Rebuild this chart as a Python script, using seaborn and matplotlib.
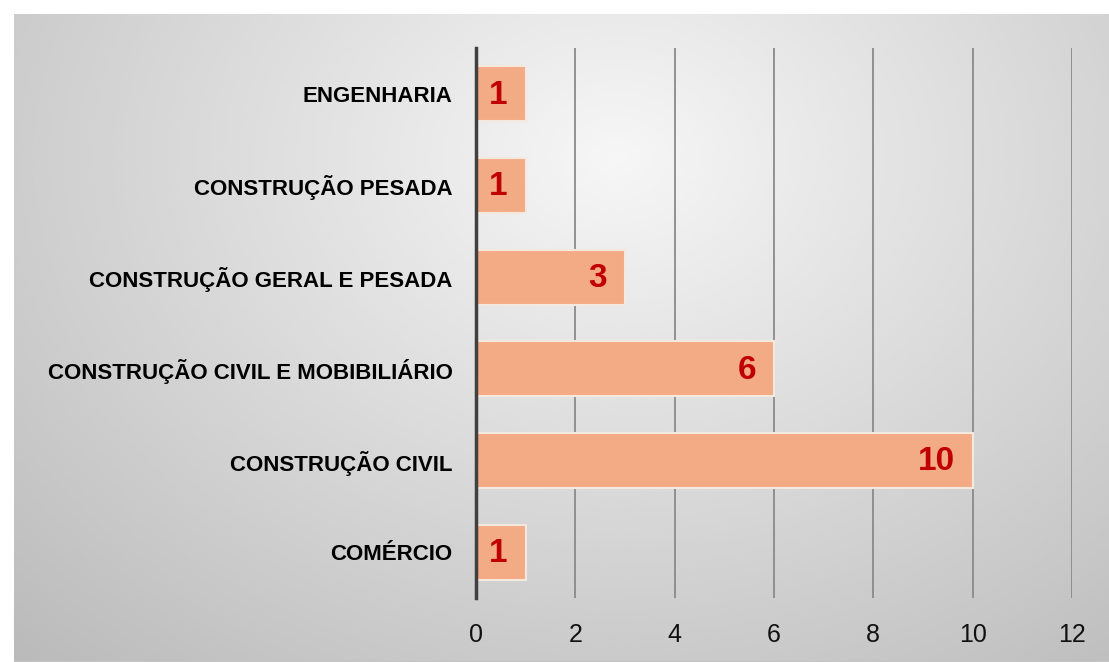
"""Horizontal bar chart: companies by sector."""

import matplotlib

matplotlib.use("Agg")

import matplotlib.pyplot as plt
import numpy as np
import seaborn as sns


categories = [
    "ENGENHARIA",
    "CONSTRUÇÃO PESADA",
    "CONSTRUÇÃO GERAL E PESADA",
    "CONSTRUÇÃO CIVIL E MOBIBILIÁRIO",
    "CONSTRUÇÃO CIVIL",
    "COMÉRCIO",
]
counts = [1, 1, 3, 6, 10, 1]
x_ticks = [0, 2, 4, 6, 8, 10, 12]

BAR_COLOR = "#F3AB86"
VALUE_COLOR = "#C00000"
LABEL_FONT = ["Liberation Sans", "DejaVu Sans"]

sns.set_theme(style="white")
plt.rcParams["font.family"] = LABEL_FONT

W, H = 1109, 662
fig = plt.figure(figsize=(W / 100, H / 100), dpi=100)
fig.patch.set_facecolor("white")

# radial grey gradient panel behind the chart
bg = fig.add_axes([14 / W, 0, 1 - 14 / W, 1 - 14 / H], zorder=0)
gx, gy = np.meshgrid(np.linspace(0, 1, 400), np.linspace(0, 1, 300))
dist = np.sqrt(((gx - 0.55) / 0.72) ** 2 + ((gy - 0.22) / 0.95) ** 2)
shade = 0.965 - 0.21 * np.clip(dist, 0, 1.15)
bg.imshow(shade, cmap="gray", vmin=0, vmax=1, aspect="auto",
          extent=[0, 1, 1, 0], interpolation="bicubic")
bg.axhline(1, color="#c4c4c4", lw=2.5)
bg.set_xlim(0, 1)
bg.set_ylim(1, 0)
bg.axis("off")

ax = fig.add_axes([476 / W, 1 - 598 / H, (1072 - 476) / W, (598 - 48) / H], zorder=1)
ax.patch.set_alpha(0)

sns.barplot(
    x=counts,
    y=categories,
    orient="h",
    color=BAR_COLOR,
    saturation=1,
    width=0.6,
    edgecolor="#f5e8de",
    linewidth=1.5,
    ax=ax,
    zorder=3,
)

for patch, value in zip(ax.patches, counts):
    ax.annotate(
        str(value),
        xy=(patch.get_x() + patch.get_width(), patch.get_y() + patch.get_height() / 2),
        xytext=(-13, -1),
        textcoords="offset points",
        ha="right",
        va="center",
        color=VALUE_COLOR,
        fontsize=24,
        fontweight="bold",
        zorder=4,
    )

ax.set_xlim(0, 12)
ax.set_ylim(5.5, -0.5)
ax.set_xticks(x_ticks)
ax.set_xticklabels([str(t) for t in x_ticks], fontsize=18, color="#111111")
ax.set_yticks(range(len(categories)))
ax.set_yticklabels(categories, fontsize=16, fontweight="bold", color="black")
ax.tick_params(axis="x", length=0, pad=18)
ax.tick_params(axis="y", length=0, pad=17)
ax.set_xlabel("")
ax.set_ylabel("")

ax.grid(axis="x", color="#8a8a8a", linewidth=1.3, zorder=1)
ax.set_axisbelow(True)
for side in ["top", "right", "bottom"]:
    ax.spines[side].set_visible(False)
ax.spines["left"].set_color("#404040")
ax.spines["left"].set_linewidth(2.5)
ax.spines["left"].set_zorder(5)

fig.savefig("out.png", dpi=100)
plt.close(fig)
